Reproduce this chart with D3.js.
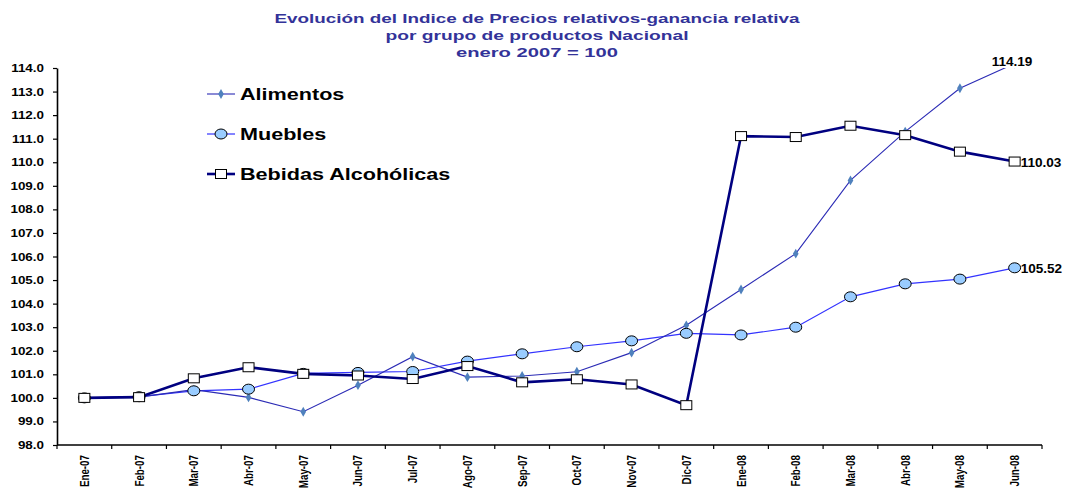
<!DOCTYPE html>
<html>
<head>
<meta charset="utf-8">
<script src="https://cdn.jsdelivr.net/npm/d3@7"></script>
<style>
  body { margin: 0; background: #fff; }
  svg { display: block; font-family: "Liberation Sans", Arial, sans-serif; }
</style>
</head>
<body>
<div id="chart"></div>
<script>
// months on the x axis
const months = ["Ene-07", "Feb-07", "Mar-07", "Abr-07", "May-07", "Jun-07", "Jul-07", "Ago-07", "Sep-07",
  "Oct-07", "Nov-07", "Dic-07", "Ene-08", "Feb-08", "Mar-08", "Abr-08", "May-08", "Jun-08"];

// series values (enero 2007 = 100)
const alimentos = [100.0, 100.03, 100.35, 100.02, 99.41, 100.54, 101.75, 100.88, 100.93,
  101.11, 101.92, 103.08, 104.6, 106.12, 109.23, 111.3, 113.14, 114.19];
const muebles = [100.0, 100.05, 100.3, 100.37, 101.04, 101.08, 101.12, 101.56, 101.87,
  102.17, 102.42, 102.74, 102.67, 103.0, 104.29, 104.84, 105.04, 105.52];
const bebidas = [100.0, 100.03, 100.83, 101.3, 101.02, 100.95, 100.8, 101.35, 100.66,
  100.79, 100.57, 99.69, 111.11, 111.07, 111.55, 111.15, 110.45, 110.03];

const yTicks = d3.range(98, 114.01, 1);
const titleLines = ["Evolución del Indice de Precios relativos-ganancia relativa",
  "por grupo de productos Nacional", "enero 2007 = 100"];

const width = 1086, height = 489;
const margin = { top: 68, left: 57, right: 44, bottom: 44 };
const stretch = 1.27; // the original picture is wider than tall, text looks stretched

const svg = d3.select("#chart").append("svg")
  .attr("width", width)
  .attr("height", height);

// scales
const x = d3.scaleBand()
  .domain(months)
  .range([margin.left, width - margin.right]);
const y = d3.scaleLinear()
  .domain([98, 114])
  .range([height - margin.bottom, margin.top]);

// title, each line fitted to the width of the original
const titleWidths = [525, 303, 162];
svg.selectAll(".title")
  .data(titleLines)
  .enter()
  .append("text")
  .attr("class", "title")
  .attr("x", (d, i) => 537 - titleWidths[i] / 2)
  .attr("y", (d, i) => 23 + i * 17)
  .attr("textLength", (d, i) => titleWidths[i])
  .attr("lengthAdjust", "spacingAndGlyphs")
  .style("font-size", "13.5px")
  .style("font-weight", "bold")
  .style("fill", "#333399")
  .text(d => d);

// y axis
const yAxis = svg.append("g")
  .attr("transform", `translate(${margin.left},0)`)
  .call(d3.axisLeft(y).tickValues(yTicks).tickFormat(d3.format(".1f")).tickSize(4).tickSizeOuter(0));
yAxis.select(".domain").attr("stroke", "#000").attr("stroke-width", 1.6);
yAxis.selectAll(".tick line").attr("stroke", "#000").attr("stroke-width", 1.2);
yAxis.selectAll(".tick text")
  .attr("x", 0)
  .attr("transform", "translate(-13,0) scale(1.22,1)")
  .style("font-size", "11px")
  .style("font-weight", "bold")
  .style("font-family", "'Liberation Sans', Arial, sans-serif")
  .style("fill", "#000");

// x axis with ticks between categories
const xBase = height - margin.bottom;
const xAxis = svg.append("g");
xAxis.append("line")
  .attr("x1", margin.left)
  .attr("x2", width - margin.right)
  .attr("y1", xBase)
  .attr("y2", xBase)
  .attr("stroke", "#000")
  .attr("stroke-width", 1.6);
xAxis.selectAll(".xtick")
  .data(months.concat(["end"]))
  .enter()
  .append("line")
  .attr("class", "xtick")
  .attr("x1", (d, i) => margin.left + i * x.bandwidth())
  .attr("x2", (d, i) => margin.left + i * x.bandwidth())
  .attr("y1", xBase)
  .attr("y2", xBase + 4)
  .attr("stroke", "#000")
  .attr("stroke-width", 1.2);
xAxis.selectAll(".xlabel")
  .data(months)
  .enter()
  .append("text")
  .attr("class", "xlabel")
  .attr("transform", d => `translate(${x(d) + x.bandwidth() / 2 + 4.5},${xBase + 10}) scale(1.25,1) rotate(-90)`)
  .attr("text-anchor", "end")
  .style("font-size", "9.8px")
  .style("font-weight", "bold")
  .text(d => d);

// clip lines to the plot area
svg.append("clipPath")
  .attr("id", "plotClip")
  .append("rect")
  .attr("x", margin.left)
  .attr("y", margin.top)
  .attr("width", width - margin.left - margin.right)
  .attr("height", height - margin.top - margin.bottom);

const cx = (d, i) => x(months[i]) + x.bandwidth() / 2;
const line = d3.line().x(cx).y(d => y(d));

const plot = svg.append("g").attr("clip-path", "url(#plotClip)");

// Muebles
plot.append("path")
  .datum(muebles)
  .attr("d", line)
  .attr("fill", "none")
  .attr("stroke", "#3333FF")
  .attr("stroke-width", 1.2);

// Alimentos
plot.append("path")
  .datum(alimentos)
  .attr("d", line)
  .attr("fill", "none")
  .attr("stroke", "#2B2BB5")
  .attr("stroke-width", 1.1);

// Bebidas Alcohólicas
plot.append("path")
  .datum(bebidas)
  .attr("d", line)
  .attr("fill", "none")
  .attr("stroke", "#000080")
  .attr("stroke-width", 2.6);

// markers
const diamond = d3.symbol().type(d3.symbolDiamond).size(28);
plot.selectAll(".alimMark")
  .data(alimentos)
  .enter()
  .append("path")
  .attr("class", "alimMark")
  .attr("d", diamond)
  .attr("transform", (d, i) => `translate(${cx(d, i)},${y(d)})`)
  .attr("fill", "#4F81BD");

plot.selectAll(".mueMark")
  .data(muebles)
  .enter()
  .append("ellipse")
  .attr("class", "mueMark")
  .attr("cx", cx)
  .attr("cy", d => y(d))
  .attr("rx", 6)
  .attr("ry", 5)
  .attr("fill", "#99CCFF")
  .attr("stroke", "#000")
  .attr("stroke-width", 1);

plot.selectAll(".bebMark")
  .data(bebidas)
  .enter()
  .append("rect")
  .attr("class", "bebMark")
  .attr("x", (d, i) => cx(d, i) - 5.5)
  .attr("y", d => y(d) - 4.5)
  .attr("width", 11)
  .attr("height", 9)
  .attr("fill", "#fff")
  .attr("stroke", "#000")
  .attr("stroke-width", 1);

// end labels
const last = months.length - 1;
const endLabels = [
  { v: alimentos[last], x: cx(null, last) - 23, yy: 66 },
  { v: bebidas[last], x: cx(null, last) + 6, yy: y(bebidas[last]) + 5 },
  { v: muebles[last], x: cx(null, last) + 6, yy: y(muebles[last]) + 5 }
];
svg.selectAll(".endLabel")
  .data(endLabels)
  .enter()
  .append("text")
  .attr("class", "endLabel")
  .attr("transform", d => `translate(${d.x},${d.yy}) scale(1.13,1)`)
  .style("font-size", "12px")
  .style("font-weight", "bold")
  .text(d => d.v.toFixed(2));

// legend
const legendItems = ["Alimentos", "Muebles", "Bebidas Alcohólicas"];
const legend = svg.append("g").attr("transform", "translate(207,94)");
const legendRows = legend.selectAll(".row")
  .data(legendItems)
  .enter()
  .append("g")
  .attr("transform", (d, i) => `translate(0,${i * 40})`);
legendRows.append("line")
  .attr("x1", 0)
  .attr("x2", 28)
  .attr("stroke", (d, i) => ["#2B2BB5", "#3333FF", "#000080"][i])
  .attr("stroke-width", (d, i) => [1.1, 1.2, 2.6][i]);
legendRows.filter((d, i) => i === 0).append("path")
  .attr("d", diamond)
  .attr("transform", "translate(14,0)")
  .attr("fill", "#4F81BD");
legendRows.filter((d, i) => i === 1).append("ellipse")
  .attr("cx", 14)
  .attr("rx", 6)
  .attr("ry", 5)
  .attr("fill", "#99CCFF")
  .attr("stroke", "#000");
legendRows.filter((d, i) => i === 2).append("rect")
  .attr("x", 8.5)
  .attr("y", -4.5)
  .attr("width", 11)
  .attr("height", 9)
  .attr("fill", "#fff")
  .attr("stroke", "#000");
legendRows.append("text")
  .attr("transform", `translate(33,6) scale(${stretch},1)`)
  .style("font-size", "17px")
  .style("font-weight", "bold")
  .text(d => d);
</script>
</body>
</html>
